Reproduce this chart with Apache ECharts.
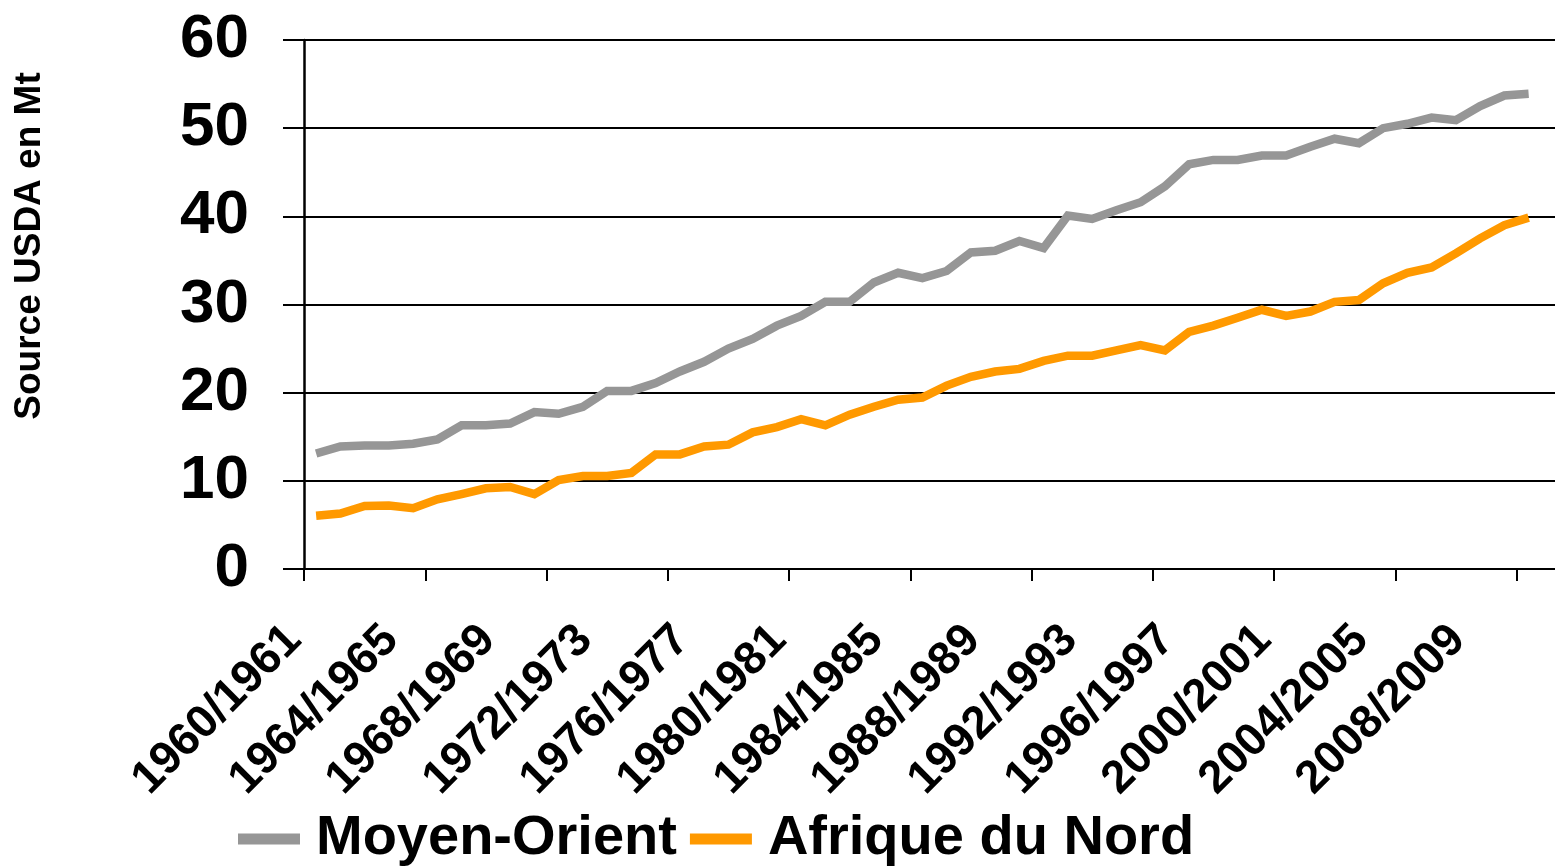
<!DOCTYPE html>
<html>
<head>
<meta charset="utf-8">
<script src="https://cdn.jsdelivr.net/npm/echarts@6/dist/echarts.min.js"></script>
<style>
  html, body { margin: 0; padding: 0; background: #fff; }
  #chart { width: 1555px; height: 866px; }
</style>
</head>
<body>
<div id="chart"></div>
<script>
const categories = [
  '1960/1961', '1961/1962', '1962/1963', '1963/1964', '1964/1965', '1965/1966', '1966/1967', '1967/1968',
  '1968/1969', '1969/1970', '1970/1971', '1971/1972', '1972/1973', '1973/1974', '1974/1975', '1975/1976',
  '1976/1977', '1977/1978', '1978/1979', '1979/1980', '1980/1981', '1981/1982', '1982/1983', '1983/1984',
  '1984/1985', '1985/1986', '1986/1987', '1987/1988', '1988/1989', '1989/1990', '1990/1991', '1991/1992',
  '1992/1993', '1993/1994', '1994/1995', '1995/1996', '1996/1997', '1997/1998', '1998/1999', '1999/2000',
  '2000/2001', '2001/2002', '2002/2003', '2003/2004', '2004/2005', '2005/2006', '2006/2007', '2007/2008',
  '2008/2009', '2009/2010', '2010/2011'
]
const moyenOrient = [
  13.1, 13.9, 14.0, 14.0, 14.2, 14.7, 16.3, 16.3, 16.5, 17.8, 17.6, 18.4, 20.2, 20.2, 21.1, 22.4,
  23.5, 25.0, 26.1, 27.6, 28.7, 30.3, 30.3, 32.5, 33.6, 33.0, 33.8, 35.9, 36.1, 37.2, 36.4, 40.1,
  39.7, 40.7, 41.6, 43.4, 45.9, 46.4, 46.4, 46.9, 46.9, 47.9, 48.8, 48.3, 50.0, 50.5, 51.2, 50.9,
  52.5, 53.7, 53.9
]
const afriqueNord = [
  6.05, 6.3, 7.15, 7.2, 6.9, 7.9, 8.5, 9.15, 9.3, 8.5, 10.1, 10.55, 10.55, 10.9, 13.0, 13.0,
  13.9, 14.1, 15.5, 16.1, 17.0, 16.3, 17.5, 18.4, 19.2, 19.45, 20.8, 21.8, 22.4, 22.7, 23.6, 24.2,
  24.2, 24.8, 25.4, 24.8, 26.9, 27.6, 28.5, 29.4, 28.7, 29.2, 30.3, 30.5, 32.4, 33.6, 34.2, 35.8,
  37.5, 39.0, 39.85
]
const yTicks = [0, 10, 20, 30, 40, 50, 60]

const font = "'Liberation Sans', Arial, sans-serif"
const chart = echarts.init(document.getElementById('chart'))

const option = {
  backgroundColor: '#ffffff',
  animation: false,
  grid: {
    left: 304,
    top: 40,
    bottom: 297,
    right: -10,
    outerBoundsMode: 'none'
  },
  legend: {
    data: ['Moyen-Orient', 'Afrique du Nord'],
    left: 233,
    top: 803,
    icon: 'rect',
    itemWidth: 62,
    itemHeight: 11,
    itemGap: 13,
    textStyle: {
      fontFamily: font,
      fontWeight: 'bold',
      fontSize: 56,
      color: '#000',
      lineHeight: 62,
      padding: [0, 0, 0, 11]
    }
  },
  graphic: [{
    type: 'text',
    x: 30,
    y: 246,
    rotation: Math.PI / 2,
    style: {
      text: 'Source USDA en Mt',
      fontFamily: font,
      fontWeight: 'bold',
      fontSize: 37,
      fill: '#000',
      align: 'center',
      verticalAlign: 'middle',
      textAlign: 'center',
      textVerticalAlign: 'middle'
    }
  }],
  xAxis: {
    type: 'category',
    data: categories,
    max: categories.length, // one empty band on the right, as in the original
    boundaryGap: true,
    axisLine: { show: true, lineStyle: { color: '#000', width: 2 } },
    axisTick: { show: true, interval: 4, length: 12, lineStyle: { color: '#000', width: 2 } },
    axisLabel: {
      interval: 3,
      rotate: 45,
      margin: 42,
      padding: [0, 31, 0, 0],
      fontFamily: font,
      fontWeight: 'bold',
      fontSize: 46,
      color: '#000'
    },
    splitLine: { show: false }
  },
  yAxis: {
    type: 'value',
    min: yTicks[0],
    max: yTicks[yTicks.length - 1],
    interval: 10,
    axisLine: { show: true, lineStyle: { color: '#000', width: 2.5 } },
    axisTick: { show: true, length: 21, lineStyle: { color: '#000', width: 2 } },
    axisLabel: {
      margin: 55,
      padding: [0, 0, 8, 0],
      fontFamily: font,
      fontWeight: 'bold',
      fontSize: 62,
      color: '#000'
    },
    splitLine: { show: true, lineStyle: { color: '#000', width: 2 } }
  },
  series: [
    {
      name: 'Moyen-Orient',
      type: 'line',
      data: moyenOrient,
      symbol: 'none',
      color: '#969696',
      lineStyle: { width: 8.5, color: '#969696', cap: 'butt', join: 'miter' }
    },
    {
      name: 'Afrique du Nord',
      type: 'line',
      data: afriqueNord,
      symbol: 'none',
      color: '#ff9900',
      lineStyle: { width: 8.5, color: '#ff9900', cap: 'butt', join: 'miter' }
    }
  ]
}

chart.setOption(option)
</script>
</body>
</html>
